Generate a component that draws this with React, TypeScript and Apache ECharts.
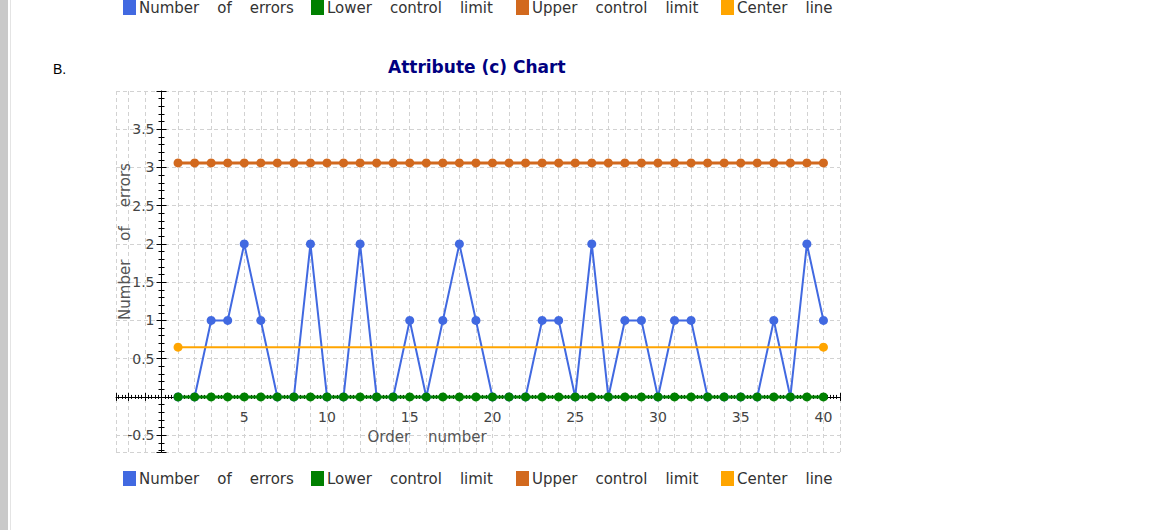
import {useEffect, useRef} from 'react';
import * as echarts from 'echarts';
import type {EChartsOption} from 'echarts';

const orderNumbers = [
    1, 2, 3, 4, 5, 6, 7, 8, 9, 10, 11, 12, 13, 14, 15, 16, 17, 18, 19, 20,
    21, 22, 23, 24, 25, 26, 27, 28, 29, 30, 31, 32, 33, 34, 35, 36, 37, 38, 39, 40,
];
const errorCounts = [
    0, 0, 1, 1, 2, 1, 0, 0, 2, 0, 0, 2, 0, 0, 1, 0, 1, 2, 1, 0,
    0, 0, 1, 1, 0, 2, 0, 1, 1, 0, 1, 1, 0, 0, 0, 0, 1, 0, 2, 1,
];
const lowerControlLimit = 0;
const upperControlLimit = 3.06;
const centerLine = 0.65;

const seriesNames = ['Number of errors', 'Lower control limit', 'Upper control limit', 'Center line'];
const seriesColors = ['#4169E1', '#008000', '#D2691E', '#FFA500'];
const legendLefts = [123, 311, 516, 721];

const FONT = 'DejaVu Sans';
const W = 1173;
const H = 530;
const GRID = {left: 116, right: 333, top: 91, bottom: 78};
const X_RANGE = [-2.75, 41];
const Y_RANGE = [-0.72, 4];

// the axes cross at zero, so shift them there (labels included)
const plotW = W - GRID.left - GRID.right;
const plotH = H - GRID.top - GRID.bottom;
const yAxisShift = -plotW * ((0 - X_RANGE[0]) / (X_RANGE[1] - X_RANGE[0]));
const xAxisShift = -plotH * ((0 - Y_RANGE[0]) / (Y_RANGE[1] - Y_RANGE[0]));

// the original spreads its words out
const wideWords = (s: string) => s.split(' ').join('{s| }');

const makeLegends = (top: number) =>
    seriesNames.map((name, i) => ({
        data: [name],
        left: legendLefts[i],
        top,
        icon: 'rect',
        itemWidth: 13,
        itemHeight: 15,
        itemGap: 0,
        padding: 0,
        formatter: wideWords,
        textStyle: {
            fontFamily: FONT,
            fontSize: 15,
            color: '#333',
            padding: [0, 0, 0, -2],
            rich: {s: {width: 18}},
        },
    }));

const App = () => {
    const chartRef = useRef<HTMLDivElement>(null);

    useEffect(() => {
        if (!chartRef.current) return;
        const chart = echarts.init(chartRef.current, null, {renderer: 'svg'});

        const pointSeries = (name: string, color: string, values: number[][], width: number) => ({
            name,
            type: 'line' as const,
            data: values,
            symbol: 'circle',
            symbolSize: 9,
            color,
            lineStyle: {color, width},
            itemStyle: {color},
        });

        const tickStyle = {color: '#000', width: 1};

        const option: EChartsOption = {
            animation: false,
            backgroundColor: '#fff',
            title: {
                text: 'Attribute (c) Chart',
                left: 388,
                top: 58,
                padding: 0,
                textStyle: {fontFamily: FONT, fontSize: 17, fontWeight: 'bold', color: '#000080'},
            },
            legend: [...makeLegends(0), ...makeLegends(471)],
            grid: {...GRID, containLabel: false},
            xAxis: [
                {
                    type: 'value',
                    min: X_RANGE[0],
                    max: X_RANGE[1],
                    splitNumber: 44,
                    offset: xAxisShift,
                    name: wideWords('Order number'),
                    nameLocation: 'middle',
                    nameGap: 33,
                    nameMoveOverlap: false,
                    nameTextStyle: {
                        fontFamily: FONT,
                        fontSize: 15,
                        color: '#555',
                        padding: [0, 102, 0, 0],
                        rich: {s: {width: 18}},
                    },
                    axisLine: {onZero: false, lineStyle: tickStyle},
                    axisTick: {show: true, length: 4, lineStyle: tickStyle},
                    minorTick: {show: true, splitNumber: 5, length: 2, lineStyle: tickStyle},
                    axisLabel: {
                        fontFamily: FONT,
                        fontSize: 14,
                        color: '#444',
                        margin: 13,
                        showMinLabel: false,
                        showMaxLabel: false,
                        formatter: (v: number) => (v > 0 && v <= 40 && v % 5 === 0 ? String(v) : ''),
                    },
                    splitLine: {show: true, lineStyle: {color: '#d2d2d2', type: [4, 3]}},
                } as any,
                {
                    type: 'value',
                    min: X_RANGE[0],
                    max: X_RANGE[1],
                    splitNumber: 44,
                    position: 'bottom',
                    offset: xAxisShift,
                    axisLine: {show: false, onZero: false},
                    axisTick: {show: true, inside: true, length: 4, lineStyle: tickStyle},
                    minorTick: {show: true, splitNumber: 5, length: 2, lineStyle: tickStyle},
                    axisLabel: {show: false},
                    splitLine: {show: false},
                },
            ],
            yAxis: [
                {
                    type: 'value',
                    min: Y_RANGE[0],
                    max: Y_RANGE[1],
                    splitNumber: 9,
                    offset: yAxisShift,
                    name: wideWords('Number of errors'),
                    nameLocation: 'middle',
                    nameGap: 29,
                    nameMoveOverlap: false,
                    nameTextStyle: {
                        fontFamily: FONT,
                        fontSize: 15,
                        color: '#555',
                        padding: [0, 0, 0, 60],
                        rich: {s: {width: 19}},
                    },
                    axisLine: {onZero: false, lineStyle: tickStyle},
                    axisTick: {show: true, length: 5, lineStyle: tickStyle},
                    minorTick: {show: true, splitNumber: 5, length: 3, lineStyle: tickStyle},
                    axisLabel: {
                        fontFamily: FONT,
                        fontSize: 14,
                        color: '#444',
                        margin: 7,
                        showMinLabel: false,
                        showMaxLabel: false,
                        formatter: (v: number) => (v === 0 || v >= 4 || v < -0.6 ? '' : String(v)),
                    },
                    splitLine: {show: true, lineStyle: {color: '#d2d2d2', type: [4, 3]}},
                } as any,
                {
                    type: 'value',
                    min: Y_RANGE[0],
                    max: Y_RANGE[1],
                    splitNumber: 9,
                    position: 'left',
                    offset: yAxisShift,
                    axisLine: {show: false, onZero: false},
                    axisTick: {show: true, inside: true, length: 5, lineStyle: tickStyle},
                    minorTick: {show: true, splitNumber: 5, length: 3, lineStyle: tickStyle},
                    axisLabel: {show: false},
                    splitLine: {show: false},
                },
            ],
            graphic: [
                {type: 'rect', left: 0, top: 0, shape: {width: 8, height: H}, style: {fill: '#c9c9c9'}},
                {type: 'rect', left: 10, top: 0, shape: {width: 1, height: H}, style: {fill: '#e4e4e4'}},
                {
                    type: 'text',
                    left: 53,
                    top: 62,
                    style: {text: 'B.', fontFamily: 'Liberation Sans', fontSize: 14, fill: '#000'},
                },
            ],
            series: [
                pointSeries(
                    seriesNames[0],
                    seriesColors[0],
                    errorCounts.map((v, i) => [orderNumbers[i], v]),
                    2,
                ),
                pointSeries(
                    seriesNames[1],
                    seriesColors[1],
                    orderNumbers.map((x) => [x, lowerControlLimit]),
                    3,
                ),
                pointSeries(
                    seriesNames[2],
                    seriesColors[2],
                    orderNumbers.map((x) => [x, upperControlLimit]),
                    3,
                ),
                pointSeries(
                    seriesNames[3],
                    seriesColors[3],
                    [
                        [orderNumbers[0], centerLine],
                        [orderNumbers[orderNumbers.length - 1], centerLine],
                    ],
                    2,
                ),
            ],
        };
        chart.setOption(option);

        return () => {
            chart.dispose();
        };
    }, []);

    return (
        <div
            ref={chartRef}
            style={{position: 'absolute', left: 0, top: 0, width: W, height: H}}
        />
    );
};

export default App;
